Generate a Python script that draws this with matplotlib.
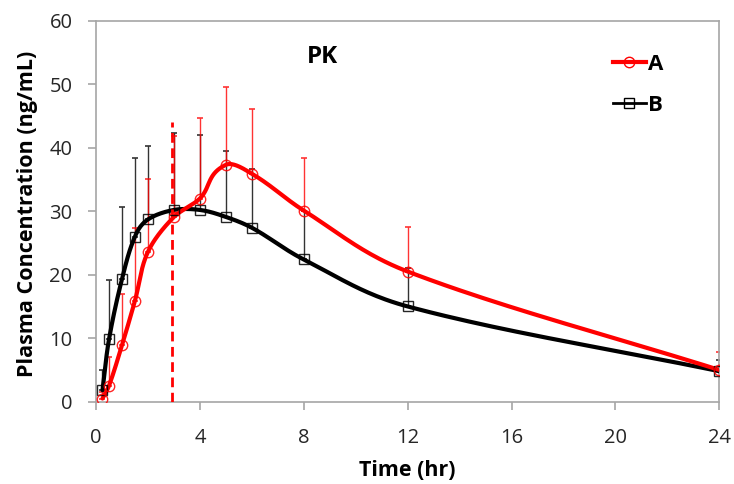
import numpy as np
import matplotlib
matplotlib.use("Agg")
import matplotlib.pyplot as plt
from matplotlib.lines import Line2D

time_hr = [0.25, 0.5, 1, 1.5, 2, 3, 4, 5, 6, 8, 12, 24]
conc_A = [0.5, 2.5, 8.9, 15.9, 23.6, 29.1, 32.0, 37.3, 35.9, 30.1, 20.5, 5.0]
sd_top_A = [1.5, 7.1, 17.0, 27.3, 35.0, 41.8, 44.6, 49.6, 46.1, 38.3, 27.5, 7.8]
conc_B = [1.8, 9.8, 19.3, 26.0, 28.7, 30.2, 30.2, 29.1, 27.4, 22.4, 15.0, 4.8]
sd_top_B = [5.0, 19.2, 30.7, 38.4, 40.2, 42.3, 42.0, 39.5, 36.6, 30.0, 21.0, 6.5]
tmax_line = 2.93
tmax_top = 44.0
x_ticks = [0, 4, 8, 12, 16, 20, 24]
y_ticks = [0, 10, 20, 30, 40, 50, 60]

FONT = ["Open Sans", "DejaVu Sans"]
plt.rcParams['font.family'] = FONT
GRAY = "#a6a6a6"


def smooth(x, y, sx=24.0, sy=60.0 * 381 / 624, n=40, tension=1.0):
    # smooth Bezier through points in display-proportional space;
    # tangent direction from neighbours, handle length from own segment length
    P = np.column_stack([np.asarray(x, float) / sx, np.asarray(y, float) / sy])
    m = len(P)
    T = np.zeros_like(P)
    for i in range(m):
        a = P[max(i - 1, 0)]
        b = P[min(i + 1, m - 1)]
        d = b - a
        T[i] = d / np.linalg.norm(d)
    out = []
    t = np.linspace(0, 1, n)[:, None]
    for i in range(m - 1):
        p0, p3 = P[i], P[i + 1]
        L = np.linalg.norm(p3 - p0)
        p1 = p0 + T[i] * L / 3 * tension
        p2 = p3 - T[i + 1] * L / 3 * tension
        seg = ((1 - t) ** 3) * p0 + 3 * ((1 - t) ** 2) * t * p1 + 3 * (1 - t) * t ** 2 * p2 + t ** 3 * p3
        out.append(seg if i == 0 else seg[1:])
    out = np.vstack(out)
    return out[:, 0] * sx, out[:, 1] * sy


fig = plt.figure(figsize=(7.34, 4.84), dpi=100)
ax = fig.add_axes([96 / 734, 1 - 401.7 / 484, (719.3 - 96) / 734, (401.7 - 20.7) / 484])

for conc, top, color in [(conc_B, sd_top_B, "black"), (conc_A, sd_top_A, "red")]:
    conc = np.array(conc)
    up = np.array(top) - conc
    ax.errorbar(time_hr, conc, yerr=[np.zeros_like(up), up], fmt="none",
                ecolor=color, elinewidth=1.0, capsize=2.5, capthick=1.2, alpha=0.8, zorder=2)

for conc, color, marker in [(conc_B, "black", "s"), (conc_A, "red", "o")]:
    sx, sy = smooth(time_hr, conc)
    ax.plot(sx, sy, color=color, lw=3, zorder=3, solid_capstyle="round")
    ax.plot(time_hr, conc, ls="none", marker=marker, ms=7.5, mfc="none",
            mec=color, mew=1.0, alpha=0.85, zorder=4)

ax.plot([tmax_line, tmax_line], [0, tmax_top], color="red", lw=2, ls=(0, (3.5, 2)), zorder=3)

ax.set_xlim(0, 24)
ax.set_ylim(0, 60)
ax.set_xticks(x_ticks)
ax.set_yticks(y_ticks)
for s in ax.spines.values():
    s.set_color(GRAY)
    s.set_linewidth(1.2)
ax.tick_params(axis="both", colors=GRAY, labelcolor="#262626", length=6, width=1.2,
               labelsize=14.5, direction="out")
ax.tick_params(axis="x", pad=13)
ax.tick_params(axis="y", pad=11)
ax.set_xlabel("Time (hr)", fontsize=15.5, fontweight="bold")
ax.set_ylabel("Plasma Concentration (ng/mL)", fontsize=15.5, fontweight="bold")
ax.xaxis.set_label_coords(0.5, -0.152)
ax.yaxis.set_label_coords(-0.093, 0.5 + (211.2 - 214) / 381)

ax.text(8.7, 54.3, "PK", fontsize=17.5, fontweight="bold", ha="center", va="center")

handles = [Line2D([], [], color="red", lw=3, marker="o", ms=7.5, mfc="none", mec="red", mew=1.0),
           Line2D([], [], color="black", lw=2, marker="s", ms=7.5, mfc="none", mec="black", mew=1.0)]
leg = ax.legend(handles, ["A", "B"], loc="upper left", bbox_to_anchor=(0.83, 0.912),
                frameon=False, handlelength=1.45, handletextpad=0.1, labelspacing=0.9,
                borderpad=0, borderaxespad=0,
                prop={"family": FONT, "weight": "bold", "size": 16})

fig.savefig("out.png", dpi=100)
